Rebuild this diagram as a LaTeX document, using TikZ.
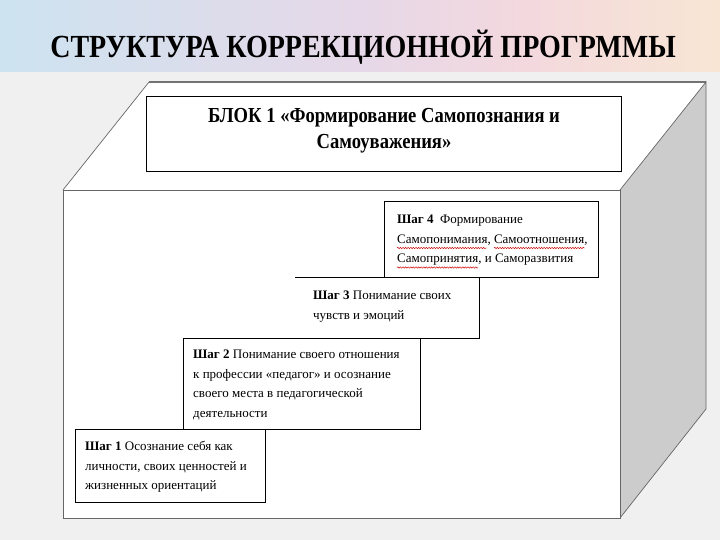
\documentclass[tikz,border=0pt]{standalone}
\usepackage{fontspec}
\setmainfont{Liberation Serif}
\usetikzlibrary{decorations.pathmorphing}
\definecolor{hblue}{RGB}{205,227,240}
\definecolor{hlav}{RGB}{230,216,232}
\definecolor{hpink}{RGB}{243,216,222}
\definecolor{hpeach}{RGB}{248,230,212}
\definecolor{bggray}{RGB}{240,240,240}
\begin{document}
\begin{tikzpicture}[x=1pt,y=-1pt,
  stepbox/.style={draw=black,line width=0.9pt},
  steptext/.style={anchor=north west,inner sep=0pt,align=left,font=\fontsize{13}{19.5}\selectfont},
  facebox/.style={draw=black!60,line width=0.7pt},
  spell/.style={draw=red!80!black,line width=0.45pt,decorate,decoration={snake,amplitude=0.7pt,segment length=2.6pt}}]
\useasboundingbox (0,0) rectangle (720,540);
% background
\fill[bggray] (0,0) rectangle (720,540);
\shade[left color=hblue, right color=hlav] (0,0) rectangle (360,72);
\shade[left color=hlav, right color=hpink] (360,0) rectangle (520,72);
\shade[left color=hpink, right color=hpeach] (520,0) rectangle (720,72);
% title
\node[font=\fontsize{28}{30}\selectfont\bfseries, inner sep=0pt] (title) at (363,47) {\scalebox{1}[1.15]{СТРУКТУРА КОРРЕКЦИОННОЙ ПРОГРММЫ}};
% cube
\coordinate (ftl) at (63,190);
\coordinate (ftr) at (620,190);
\coordinate (fbr) at (620,518);
\coordinate (fbl) at (63,518);
\coordinate (btl) at (149,82);
\coordinate (btr) at (706,82);
\coordinate (bbr) at (706,409);
\fill[white] (ftl) -- (btl) -- (btr) -- (ftr) -- cycle;
\draw[facebox] (ftl) -- (btl);
\draw[black!55,line width=1.6pt] (btl) -- (btr);
\fill[black!20] (ftr) -- (btr) -- (bbr) -- (fbr) -- cycle;
\draw[facebox] (ftr) -- (btr) -- (bbr) -- (fbr);
\draw[facebox,fill=white] (ftl) rectangle (fbr);
% block box
\draw[stepbox] (146,96) rectangle (621,171);
\node[font=\fontsize{18.6}{25}\selectfont\bfseries, align=center, inner sep=0pt] (blok) at (384,131) {\scalebox{1}[1.15]{БЛОК 1 «Формирование Самопознания и}\\[1pt]\scalebox{1}[1.15]{Самоуважения»}};
% step boxes
\draw[stepbox] (384,201) rectangle (598,277);
\draw[stepbox] (295,277) -- (479,277) -- (479,338) -- (183,338);
\draw[stepbox] (183,338) rectangle (420,429);
\draw[stepbox] (75,429) rectangle (265,502);
\draw[stepbox] (295,277) -- (598,277);
% step texts
\node[steptext] (s4) at (397,215) {\textbf{Шаг 4}\ \ Формирование\\Самопонимания, Самоотношения,\\Самопринятия, и Саморазвития};
\node[steptext] (s3) at (313,291) {\textbf{Шаг 3} Понимание своих\\чувств и эмоций};
\node[steptext] (s2) at (193,350) {\textbf{Шаг 2} Понимание своего отношения\\к профессии «педагог» и осознание\\своего места в педагогической\\деятельности};
\node[steptext] (s1) at (85,441) {\textbf{Шаг 1} Осознание себя как\\личности, своих ценностей и\\жизненных ориентаций};
% spell-check underlines
\draw[spell] (397,248) -- (487,248);
\draw[spell] (494,248) -- (585,248);
\draw[spell] (397,267.5) -- (478,267.5);
\end{tikzpicture}
\end{document}
